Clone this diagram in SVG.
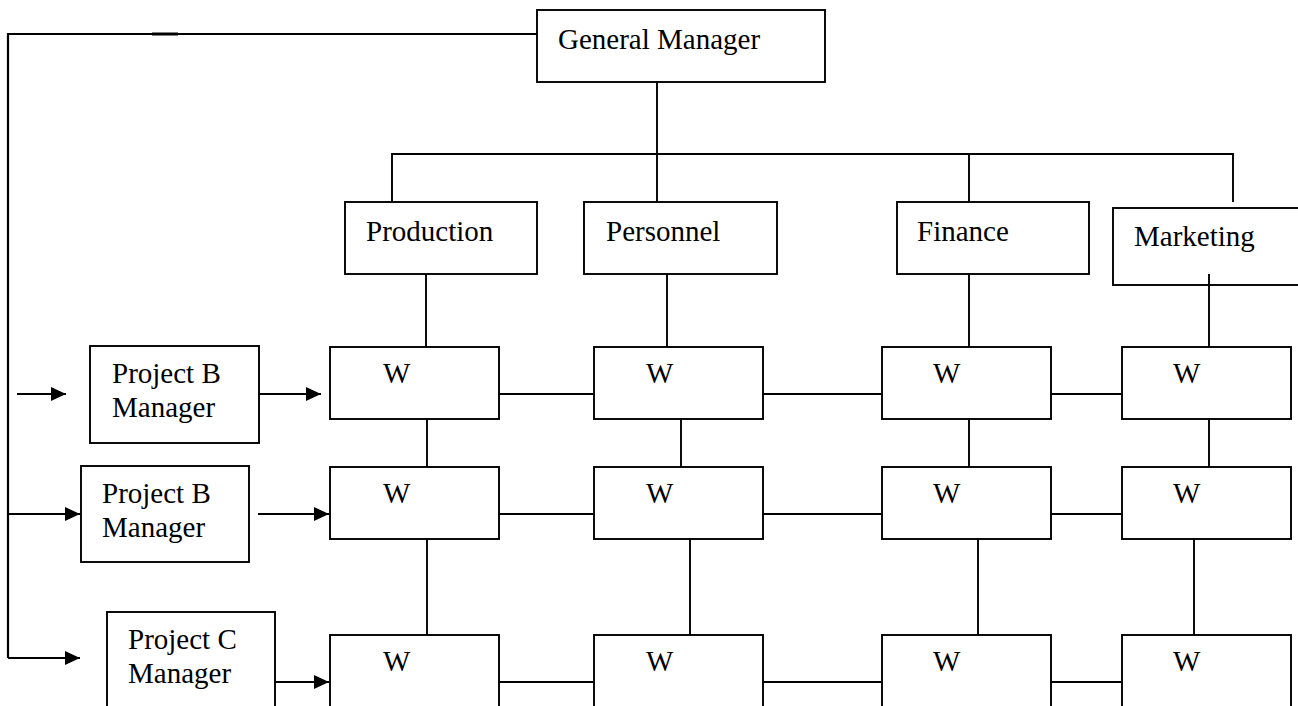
<svg xmlns="http://www.w3.org/2000/svg" width="1298" height="706" viewBox="0 0 1298 706">
<style>
.box{fill:#fff;stroke:#000;stroke-width:1.9}
.ln{fill:none;stroke:#000;stroke-width:1.9}
.ar{fill:none;stroke:#000;stroke-width:2.2;marker-end:url(#ah)}
text{font-family:"Liberation Serif","Times New Roman",serif;font-size:29px;fill:#000}
</style>
<defs>
<marker id="ah" markerUnits="userSpaceOnUse" markerWidth="15" markerHeight="14" refX="15" refY="7" orient="auto">
<path d="M0,0 L15,7 L0,14 z" fill="#000"/>
</marker>
</defs>
<rect width="1298" height="706" fill="#fff"/>
<g id="connectors">
<path class="ln" d="M537,34 H8 V658" style="stroke-width:2.2"/>
<path class="ln" d="M152,34 H178" style="stroke-width:3"/>
<path class="ln" d="M657,82 V154"/>
<path class="ln" d="M392,202 V154 H1233 V202"/>
<path class="ln" d="M657,154 V202"/>
<path class="ln" d="M969,154 V202"/>
<path class="ln" d="M426,274 V347"/>
<path class="ln" d="M667,274 V347"/>
<path class="ln" d="M969,274 V347"/>
<path class="ln" d="M1209,274 V347"/>
<path class="ln" d="M427,419 V467"/>
<path class="ln" d="M681,419 V467"/>
<path class="ln" d="M969,419 V467"/>
<path class="ln" d="M1209,419 V467"/>
<path class="ln" d="M427,539 V635"/>
<path class="ln" d="M690,539 V635"/>
<path class="ln" d="M978,539 V635"/>
<path class="ln" d="M1194,539 V635"/>
<path class="ln" d="M499,394 H594 M763,394 H882 M1051,394 H1122"/>
<path class="ln" d="M499,514 H594 M763,514 H882 M1051,514 H1122"/>
<path class="ln" d="M499,682 H594 M763,682 H882 M1051,682 H1122"/>
<path class="ar" d="M17,394 H66"/>
<path class="ar" d="M259,394 H321"/>
<path class="ar" d="M8,514 H80"/>
<path class="ar" d="M258,514 H329"/>
<path class="ar" d="M8,658 H80"/>
<path class="ar" d="M275,682 H329"/>
</g>
<g id="gm"><rect class="box" x="537" y="10" width="288" height="72"/><text x="558" y="49">General Manager</text></g>
<g id="production"><rect class="box" x="345" y="202" width="192" height="72"/><text x="366" y="241">Production</text></g>
<g id="personnel"><rect class="box" x="584" y="202" width="193" height="72"/><text x="606" y="241">Personnel</text></g>
<g id="finance"><rect class="box" x="897" y="202" width="192" height="72"/><text x="917" y="241">Finance</text></g>
<g id="marketing"><rect class="box" x="1113" y="208" width="200" height="77"/><text x="1134" y="246">Marketing</text></g>
<path class="ln" d="M1209,274 V285"/>
<g id="pm1"><rect class="box" x="90" y="346" width="169" height="97"/><text x="112" y="383">Project B</text><text x="112" y="417">Manager</text></g>
<g id="pm2"><rect class="box" x="81" y="466" width="168" height="96"/><text x="102" y="503">Project B</text><text x="102" y="537">Manager</text></g>
<g id="pm3"><rect class="box" x="107" y="612" width="168" height="110"/><text x="128" y="649">Project C</text><text x="128" y="683">Manager</text></g>
<g id="w11"><rect class="box" x="330" y="347" width="169" height="72"/><text x="383" y="383">W</text></g>
<g id="w12"><rect class="box" x="594" y="347" width="169" height="72"/><text x="646" y="383">W</text></g>
<g id="w13"><rect class="box" x="882" y="347" width="169" height="72"/><text x="933" y="383">W</text></g>
<g id="w14"><rect class="box" x="1122" y="347" width="169" height="72"/><text x="1173" y="383">W</text></g>
<g id="w21"><rect class="box" x="330" y="467" width="169" height="72"/><text x="383" y="503">W</text></g>
<g id="w22"><rect class="box" x="594" y="467" width="169" height="72"/><text x="646" y="503">W</text></g>
<g id="w23"><rect class="box" x="882" y="467" width="169" height="72"/><text x="933" y="503">W</text></g>
<g id="w24"><rect class="box" x="1122" y="467" width="169" height="72"/><text x="1173" y="503">W</text></g>
<g id="w31"><rect class="box" x="330" y="635" width="169" height="90"/><text x="383" y="671">W</text></g>
<g id="w32"><rect class="box" x="594" y="635" width="169" height="90"/><text x="646" y="671">W</text></g>
<g id="w33"><rect class="box" x="882" y="635" width="169" height="90"/><text x="933" y="671">W</text></g>
<g id="w34"><rect class="box" x="1122" y="635" width="169" height="90"/><text x="1173" y="671">W</text></g>
</svg>
